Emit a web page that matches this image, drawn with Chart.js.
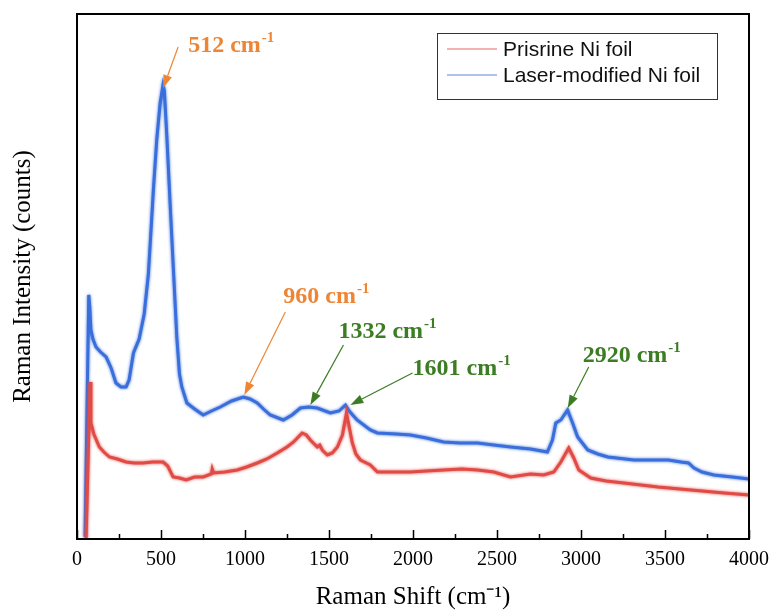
<!DOCTYPE html>
<html>
<head>
<meta charset="utf-8">
<script src="https://cdn.jsdelivr.net/npm/chart.js@4.4.1/dist/chart.umd.min.js"></script>
<style>
  html, body { margin: 0; padding: 0; background: #ffffff; }
  #wrap { width: 771px; height: 614px; position: relative; }
</style>
</head>
<body>
<div id="wrap"><canvas id="c" width="771" height="614"></canvas></div>
<script>
// ---------- data (Raman shift in cm^-1, intensity in arbitrary units) ----------
const seriesNames = ["Prisrine Ni foil", "Laser-modified Ni foil"];

const shiftPristine = [54, 78, 83, 100, 133, 160, 193, 240, 292, 340, 393, 450, 513, 540, 572, 610, 650, 700, 751, 800, 805, 813, 880, 954, 1010, 1073, 1130, 1192, 1250, 1289, 1340, 1365, 1389, 1430, 1445, 1460, 1490, 1520, 1550, 1580, 1604, 1625, 1639, 1660, 1687, 1746, 1788, 1900, 1985, 2080, 2182, 2290, 2385, 2480, 2581, 2700, 2778, 2838, 2880, 2927, 2957, 2987, 3058, 3150, 3255, 3458, 3654, 3851, 4000];
const intensityPristine = [0, 157, 116, 105, 92, 87, 82, 80, 77, 76, 76, 77, 77, 73, 62, 61, 59, 62, 62, 65, 70, 66, 67, 69, 72, 76, 80, 86, 92, 97, 106, 104, 99, 92, 94, 89, 84, 86, 92, 104, 126, 108, 96, 85, 79, 74, 67, 67, 67, 68, 69, 70, 69, 67, 62, 65, 64, 67, 77, 91, 81, 69, 61, 58, 56, 52, 49, 46, 44];

const shiftModified = [48, 70, 76, 83, 95, 113, 140, 173, 203, 232, 262, 292, 310, 336, 370, 400, 425, 455, 475, 495, 512, 520, 535, 554, 574, 594, 610, 624, 654, 700, 751, 800, 853, 920, 990, 1030, 1073, 1110, 1150, 1228, 1280, 1330, 1380, 1430, 1508, 1560, 1598, 1620, 1667, 1746, 1788, 1900, 1985, 2080, 2182, 2280, 2385, 2480, 2581, 2700, 2800, 2830, 2850, 2880, 2920, 2950, 2980, 3040, 3100, 3160, 3315, 3435, 3520, 3595, 3640, 3673, 3720, 3791, 3900, 4000];
const intensityModified = [2, 244, 232, 209, 200, 192, 187, 182, 171, 156, 152, 152, 159, 186, 200, 225, 265, 350, 400, 436, 454, 448, 402, 336, 269, 202, 165, 152, 136, 130, 124, 128, 132, 138, 142, 140, 136, 130, 124, 119, 124, 131, 132, 131, 126, 128, 134, 128, 119, 109, 106, 105, 104, 101, 97, 96, 96, 94, 92, 90, 87, 99, 116, 119, 129, 116, 102, 89, 85, 82, 79, 79, 79, 77, 76, 71, 67, 64, 62, 60];

const xTickValues = [0, 500, 1000, 1500, 2000, 2500, 3000, 3500, 4000];
const xMinorTickValues = [250, 750, 1250, 1750, 2250, 2750, 3250, 3750];

// peak annotations: label text, peak shift, arrow tip intensity, arrow tail (shift, intensity), label anchor (shift, intensity)
const peakLabels = ["512", "960", "1332", "1601", "2920"];
const peakShifts = [513, 996, 1389, 1627, 2921];
const peakTipIntensity = [451, 144, 134, 134, 131];
const tailShift = [602, 1240, 1586, 1997, 3046];
const tailIntensity = [492, 227, 194, 166, 172];
const labelShift = [662, 1228, 1556, 1997, 3010];
const labelIntensity = [487, 236, 201, 164, 177];
const peakColorKeys = ["orange", "orange", "green", "green", "green"];

// ---------- styles ----------
const COLORS = {
  pristine: "#e14b46",
  modified: "#3a6edb",
  pristineLegend: "#ee9a98",
  modifiedLegend: "#8eaee6",
  orange: "#ee8535",
  green: "#3b7d23"
};
const SERIF = "'Liberation Serif', 'Times New Roman', serif";
const SANS = "'Liberation Sans', Arial, sans-serif";

function toPoints(xs, ys) { return xs.map((x, i) => ({ x: x, y: ys[i] })); }

// ---------- plugins ----------
const softLinePlugin = {
  id: "softLine",
  beforeDatasetDraw(chart, args) {
    const ds = chart.data.datasets[args.index];
    chart.ctx.save();
    chart.ctx.shadowColor = ds.borderColor;
    chart.ctx.shadowBlur = 3;
  },
  afterDatasetDraw(chart) {
    chart.ctx.restore();
  }
};

const framePlugin = {
  id: "frame",
  afterDatasetsDraw(chart) {
    const { ctx, chartArea: a, scales } = chart;
    const xs = scales.x;
    ctx.save();
    ctx.strokeStyle = "#000";
    ctx.lineWidth = 2;
    ctx.strokeRect(a.left, a.top, a.right - a.left, a.bottom - a.top);
    ctx.lineWidth = 1.5;
    ctx.beginPath();
    xTickValues.forEach(v => {
      const px = Math.round(xs.getPixelForValue(v)) + 0.5;
      ctx.moveTo(px, a.bottom); ctx.lineTo(px, a.bottom - 9);
    });
    xMinorTickValues.forEach(v => {
      const px = Math.round(xs.getPixelForValue(v)) + 0.5;
      ctx.moveTo(px, a.bottom); ctx.lineTo(px, a.bottom - 5);
    });
    ctx.stroke();
    ctx.restore();
  }
};

const annotationPlugin = {
  id: "peaks",
  afterDatasetsDraw(chart) {
    const { ctx, scales } = chart;
    const xs = scales.x, ys = scales.y;
    ctx.save();
    peakLabels.forEach((lab, i) => {
      const col = COLORS[peakColorKeys[i]];
      const tx = xs.getPixelForValue(peakShifts[i]);
      const ty = ys.getPixelForValue(peakTipIntensity[i]);
      const sx = xs.getPixelForValue(tailShift[i]);
      const sy = ys.getPixelForValue(tailIntensity[i]);
      const ang = Math.atan2(ty - sy, tx - sx);
      const headLen = 13, headW = 4.5;
      const bx = tx - headLen * Math.cos(ang), by = ty - headLen * Math.sin(ang);
      ctx.strokeStyle = col;
      ctx.lineWidth = 1.2;
      ctx.beginPath();
      ctx.moveTo(sx, sy); ctx.lineTo(bx, by);
      ctx.stroke();
      ctx.fillStyle = col;
      ctx.beginPath();
      ctx.moveTo(tx, ty);
      ctx.lineTo(bx + headW * Math.sin(ang), by - headW * Math.cos(ang));
      ctx.lineTo(bx - headW * Math.sin(ang), by + headW * Math.cos(ang));
      ctx.closePath();
      ctx.fill();
      const lx = xs.getPixelForValue(labelShift[i]);
      const ly = ys.getPixelForValue(labelIntensity[i]);
      ctx.textBaseline = "alphabetic";
      ctx.textAlign = "left";
      ctx.font = "bold 24px " + SERIF;
      const main = lab + " cm";
      ctx.fillText(main, lx, ly);
      const w = ctx.measureText(main).width;
      ctx.font = "bold 15px " + SERIF;
      ctx.fillText("-1", lx + w + 1, ly - 10);
    });
    ctx.restore();
  }
};

const legendPlugin = {
  id: "boxLegend",
  afterDraw(chart) {
    const { ctx, chartArea: a } = chart;
    const right = a.right - 32, top = a.top + 19;
    const width = 280, height = 66;
    const left = right - width;
    ctx.save();
    ctx.fillStyle = "#fff";
    ctx.fillRect(left, top, width, height);
    ctx.strokeStyle = "#333";
    ctx.lineWidth = 1;
    ctx.strokeRect(left + 0.5, top + 0.5, width, height);
    const legendCols = [COLORS.pristineLegend, COLORS.modifiedLegend];
    seriesNames.forEach((name, i) => {
      const cy = top + 16 + i * 26;
      ctx.strokeStyle = legendCols[i];
      ctx.lineWidth = 1.5;
      ctx.beginPath();
      ctx.moveTo(left + 10, cy); ctx.lineTo(left + 60, cy);
      ctx.stroke();
      ctx.fillStyle = "#111";
      ctx.font = "21px " + SANS;
      ctx.textBaseline = "middle";
      ctx.fillText(name, left + 66, cy + 1);
    });
    ctx.restore();
  }
};

// ---------- chart ----------
new Chart(document.getElementById("c"), {
  type: "line",
  data: {
    datasets: [
      {
        label: seriesNames[0],
        data: toPoints(shiftPristine, intensityPristine),
        borderColor: COLORS.pristine,
        backgroundColor: COLORS.pristine,
        borderWidth: 3,
        pointRadius: 0,
        tension: 0,
        fill: false
      },
      {
        label: seriesNames[1],
        data: toPoints(shiftModified, intensityModified),
        borderColor: COLORS.modified,
        backgroundColor: COLORS.modified,
        borderWidth: 3,
        pointRadius: 0,
        tension: 0,
        fill: false
      }
    ]
  },
  options: {
    responsive: false,
    animation: false,
    devicePixelRatio: 1,
    layout: { padding: { top: 14, right: 22, left: 0, bottom: 0 } },
    plugins: { legend: { display: false }, tooltip: { enabled: false } },
    scales: {
      x: {
        type: "linear",
        min: 0, max: 4000,
        afterBuildTicks(scale) { scale.ticks = xTickValues.map(v => ({ value: v })); },
        afterFit(scale) { scale.height = 75; scale.paddingLeft = 0; scale.paddingRight = 0; },
        grid: { display: false, drawTicks: false },
        border: { display: false },
        ticks: {
          color: "#000", font: { family: SERIF, size: 20 }, padding: 9, maxRotation: 0, autoSkip: false,
          callback: v => String(v)
        },
        title: { display: true, text: "Raman Shift (cm\u207B\u00B9)", color: "#000", font: { family: SERIF, size: 25 }, padding: { top: 0, bottom: 2 } }
      },
      y: {
        type: "linear",
        min: 0, max: 525,
        afterFit(scale) { scale.width = 77; scale.paddingTop = 0; scale.paddingBottom = 0; },
        grid: { display: false, drawTicks: false },
        border: { display: false },
        ticks: { display: false },
        title: { display: true, text: "Raman Intensity (counts)", color: "#000", font: { family: SERIF, size: 25 }, padding: { top: 8, bottom: 0 } }
      }
    }
  },
  plugins: [softLinePlugin, framePlugin, annotationPlugin, legendPlugin]
});
</script>
</body>
</html>
